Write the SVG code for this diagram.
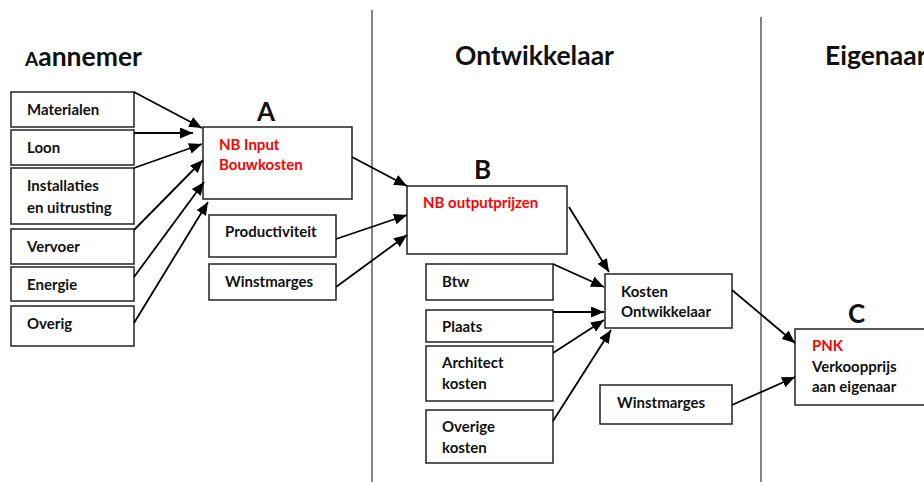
<svg xmlns="http://www.w3.org/2000/svg" width="924" height="482" viewBox="0 0 924 482">
<style>
.box{fill:#fff;stroke:#222;stroke-width:1.5}
.t{font-family:Lato,"Open Sans","Liberation Sans",sans-serif;font-weight:700;font-size:15px;fill:#111}
.r{fill:#f00}
.title{font-family:Lato,"Open Sans","Liberation Sans",sans-serif;font-weight:700;font-size:26.5px;fill:#111}
.lbl{font-family:Lato,"Open Sans","Liberation Sans",sans-serif;font-weight:700;font-size:26px;fill:#111}
.c{stroke:#000;stroke-width:1.8;fill:none;marker-end:url(#ah)}
.sep{stroke:#333;stroke-width:1.2}
</style>
<defs>
<marker id="ah" markerUnits="userSpaceOnUse" markerWidth="13" markerHeight="11" refX="13" refY="5.5" orient="auto">
<path d="M0,0 L13,5.5 L0,11 z" fill="#000"/>
</marker>
</defs>
<g id="separators">
<line class="sep" x1="372" y1="10" x2="372" y2="482"/>
<line class="sep" x1="761" y1="17" x2="761" y2="482"/>
</g>
<g id="titles">
<text class="title" x="25" y="66"><tspan font-size="19">A</tspan>annemer</text>
<text class="title" x="455" y="65">Ontwikkelaar</text>
<text class="title" x="825" y="65">Eigenaar</text>
</g>
<g id="n-materialen"><rect class="box" x="11" y="92" width="123" height="35"/><text class="t" x="27" y="115">Materialen</text></g>
<g id="n-loon"><rect class="box" x="11" y="130" width="123" height="35"/><text class="t" x="27" y="153">Loon</text></g>
<g id="n-installaties"><rect class="box" x="11" y="168" width="123" height="56"/><text class="t" x="27" y="191">Installaties</text><text class="t" x="27" y="213">en uitrusting</text></g>
<g id="n-vervoer"><rect class="box" x="11" y="229" width="123" height="35"/><text class="t" x="27" y="252">Vervoer</text></g>
<g id="n-energie"><rect class="box" x="11" y="267" width="123" height="34"/><text class="t" x="27" y="290">Energie</text></g>
<g id="n-overig"><rect class="box" x="11" y="306" width="123" height="40"/><text class="t" x="27" y="329">Overig</text></g>
<g id="n-A"><rect class="box" x="203" y="127" width="149" height="72"/><text class="lbl" x="257" y="121">A</text><text class="t r" x="219" y="150">NB Input</text><text class="t r" x="219" y="170">Bouwkosten</text></g>
<g id="n-productiviteit"><rect class="box" x="209" y="215" width="127" height="42"/><text class="t" x="225" y="237">Productiviteit</text></g>
<g id="n-winstmarges1"><rect class="box" x="209" y="264" width="127" height="36"/><text class="t" x="225" y="287">Winstmarges</text></g>
<g id="n-B"><rect class="box" x="407" y="186" width="160" height="68"/><text class="lbl" x="474" y="179">B</text><text class="t r" x="423" y="208">NB outputprijzen</text></g>
<g id="n-btw"><rect class="box" x="426" y="264" width="127" height="36"/><text class="t" x="442" y="287">Btw</text></g>
<g id="n-plaats"><rect class="box" x="426" y="310" width="127" height="32"/><text class="t" x="442" y="332">Plaats</text></g>
<g id="n-architect"><rect class="box" x="426" y="346" width="127" height="55"/><text class="t" x="442" y="368">Architect</text><text class="t" x="442" y="389">kosten</text></g>
<g id="n-overige"><rect class="box" x="426" y="410" width="127" height="53"/><text class="t" x="442" y="432">Overige</text><text class="t" x="442" y="453">kosten</text></g>
<g id="n-kosten"><rect class="box" x="605" y="274" width="127" height="54"/><text class="t" x="621" y="297">Kosten</text><text class="t" x="621" y="317">Ontwikkelaar</text></g>
<g id="n-winstmarges2"><rect class="box" x="600" y="385" width="132" height="39"/><text class="t" x="617" y="408">Winstmarges</text></g>
<g id="n-C"><rect class="box" x="795" y="329" width="140" height="76"/><text class="lbl" x="848" y="323">C</text><text class="t r" x="812" y="351">PNK</text><text class="t" x="812" y="372">Verkoopprijs</text><text class="t" x="812" y="392">aan eigenaar</text></g>
<g id="connectors">
<line class="c" x1="134" y1="92" x2="202" y2="128"/>
<line class="c" x1="134" y1="133" x2="193" y2="133"/>
<line class="c" x1="134" y1="168" x2="202" y2="144"/>
<line class="c" x1="134" y1="230" x2="203" y2="160"/>
<line class="c" x1="134" y1="277" x2="204" y2="182"/>
<line class="c" x1="134" y1="323" x2="208" y2="202"/>
<line class="c" x1="352" y1="157" x2="407" y2="186"/>
<line class="c" x1="336" y1="239" x2="407" y2="215"/>
<line class="c" x1="336" y1="287" x2="407" y2="235"/>
<line class="c" x1="569" y1="207" x2="609" y2="272"/>
<line class="c" x1="553" y1="264" x2="604" y2="287"/>
<line class="c" x1="553" y1="312" x2="604" y2="312"/>
<line class="c" x1="553" y1="353" x2="604" y2="320"/>
<line class="c" x1="553" y1="421" x2="611" y2="330"/>
<line class="c" x1="732" y1="290" x2="795" y2="343"/>
<line class="c" x1="732" y1="405" x2="795" y2="377"/>
</g>
</svg>
